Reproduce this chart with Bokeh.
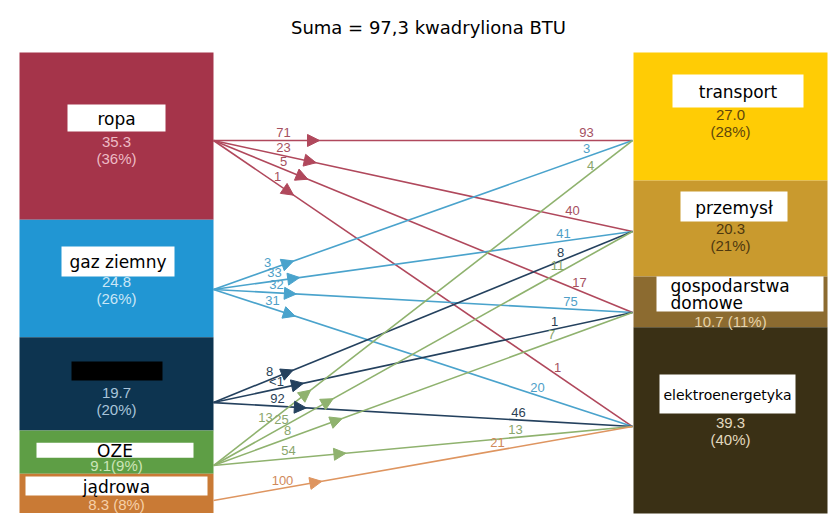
import numpy as np
from bokeh.plotting import figure
from bokeh.models import Range1d, Arrow, NormalHead
from bokeh.core.properties import value
from bokeh.embed import file_html
from bokeh.resources import INLINE

# ---------------- data ----------------
title_text = "Suma = 97,3 kwadryliona BTU"
sources = ["ropa", "gaz ziemny", "węgiel", "OZE", "jądrowa"]
source_values = [35.3, 24.8, 19.7, 9.1, 8.3]
source_labels = ["35.3\n(36%)", "24.8\n(26%)", "19.7\n(20%)", "9.1(9%)", "8.3 (8%)"]
targets = ["transport", "przemysł", "gospodarstwa\ndomowe", "elektroenergetyka"]
target_values = [27.0, 20.3, 10.7, 39.3]
target_labels = ["27.0\n(28%)", "20.3\n(21%)", "10.7 (11%)", "39.3\n(40%)"]
flow_src = [0, 0, 0, 0, 1, 1, 1, 1, 2, 2, 2, 3, 3, 3, 3, 4]
flow_tgt = [0, 1, 2, 3, 0, 1, 2, 3, 1, 2, 3, 0, 1, 2, 3, 3]
flow_pct_of_source = ["71", "23", "5", "1", "3", "33", "32", "31",
                      "8", "<1", "92", "13", "25", "8", "54", "100"]
flow_pct_of_target = ["93", "40", "17", "1", "3", "41", "75", "20",
                      "8", "1", "46", "4", "11", "7", "13", "21"]

# ---------------- styles / layout ----------------
src_colors = ["#A5344A", "#2196D3", "#0D3450", "#5E9E45", "#C97A35"]
tgt_colors = ["#FFCC05", "#C99A2E", "#8C6B30", "#3A3015"]
src_line_colors = ["#B0485C", "#4AA3CC", "#24415E", "#8FB26E", "#DE9560"]
src_text_colors = ["#A5505F", "#4F9FC8", "#2B3F55", "#8AA66C", "#D0895A"]
src_val_colors = ["#EDBBC5", "#CCE6F6", "#A9C4DA", "#CDE5B8", "#F6D0A8"]
tgt_val_colors = ["#5E460C", "#4E380E", "#E6D3AA", "#E2D8BF"]

W, H = 830, 516
TOP = 52.0
KY = 461.0 / 97.3
XL0, XL1 = 19, 213
XR0, XR1 = 633, 827

def ypx(v):
    return TOP + v * KY

def yval(px):
    return (px - TOP) / KY

src_anchor = [0.526, 0.593, 0.70, 0.81, 0.68]
tgt_anchor = [0.688, 0.531, 0.708, 0.533]
arrow_dist = [106, 105, 102, 97, 85, 87, 83, 86, 86, 92, 93, 123, 137, 137, 133, 110]
lab_dx_left = [70, 70, 70, 64, 54, 61, 63, 59, 56, 63, 64, 52, 68, 74, 75, 69]
lab_dx_right = [46, 60, 53, 75, 46, 69, 62, 95, 72, 78, 114, 42, 75, 81, 117, 135]

# node label boxes: (cx, dy from segment centre, w, h, box colour, name font size)
src_box = [(116, -18, 98, 27, "white", 17), (117.5, -17, 113, 30, "white", 17),
           (116.5, -13, 91, 19, "black", 15), (114.5, -2, 157, 15, "white", 17),
           (116, -7.4, 182, 19, "white", 17)]
src_val_dy = [5.4, 4, 8.6, 13.4, 11]
tgt_box = [(737.5, -25.5, 131, 33, "white", 17), (733.5, -22, 107, 30, "white", 17),
           (739.5, -8, 167, 35, "white", 17), (727, -26.4, 136, 39, "white", 14)]
tgt_val_dy = [-1, 0, 19.6, 3]

p = figure(width=W, height=H, output_backend="svg", toolbar_location=None,
           x_range=Range1d(0, W), y_range=Range1d(yval(H), yval(0)),
           min_border=0)
p.axis.visible = False
p.grid.visible = False
p.outline_line_color = None
p.background_fill_color = "white"

# ---------------- node boxes ----------------
s_cum = np.concatenate([[0], np.cumsum(source_values)])
t_cum = np.concatenate([[0], np.cumsum(target_values)])
p.quad(left=[XL0] * len(sources), right=[XL1] * len(sources),
       top=list(s_cum[:-1]), bottom=list(s_cum[1:]), fill_color=src_colors, line_color=None)
p.quad(left=[XR0] * len(targets), right=[XR1] * len(targets),
       top=list(t_cum[:-1]), bottom=list(t_cum[1:]), fill_color=tgt_colors, line_color=None)

src_y = [s_cum[i] + src_anchor[i] * source_values[i] for i in range(len(sources))]
tgt_y = [t_cum[i] + tgt_anchor[i] * target_values[i] for i in range(len(targets))]

# ---------------- flows ----------------
for k in range(len(flow_src)):
    s, t = flow_src[k], flow_tgt[k]
    x0, y0 = XL1, ypx(src_y[s])
    x1, y1 = XR0 - 1, ypx(tgt_y[t])
    col = src_line_colors[s]
    p.segment(x0=[x0], y0=[yval(y0)], x1=[x1], y1=[yval(y1)], line_color=col, line_width=1.6)
    L = np.hypot(x1 - x0, y1 - y0)
    ux, uy = (x1 - x0) / L, (y1 - y0) / L
    d = arrow_dist[k]
    tx, ty = x0 + ux * d, y0 + uy * d
    p.add_layout(Arrow(end=NormalHead(size=12, fill_color=col, line_color=col, line_width=1),
                       x_start=tx - ux * 2, y_start=yval(ty - uy * 2),
                       x_end=tx, y_end=yval(ty), line_alpha=0))
    # left label
    lx = x0 + lab_dx_left[k]
    ly = y0 + (y1 - y0) * (lab_dx_left[k] / (x1 - x0)) - 8
    p.text(x=[lx], y=[yval(ly)], text=[flow_pct_of_source[k]], text_align="center",
           text_baseline="middle", text_font=value("Liberation Sans"),
           text_font_size="13px", text_color=src_text_colors[s])
    rx = x1 - lab_dx_right[k]
    ry = y1 - (y1 - y0) * (lab_dx_right[k] / (x1 - x0)) - 8
    p.text(x=[rx], y=[yval(ry)], text=[flow_pct_of_target[k]], text_align="center",
           text_baseline="middle", text_font=value("Liberation Sans"),
           text_font_size="13px", text_color=src_text_colors[s])

# ---------------- node labels ----------------
def node_label(cx_col, seg_top, seg_val, box, name, vals, val_dy, val_col):
    cx, dy, w, h, bcol, fs = box
    cy = ypx(seg_top + seg_val / 2) + dy
    p.rect(x=[cx], y=[yval(cy)], width=[w], height=[h], width_units="screen",
           height_units="screen", fill_color=bcol, line_color=None)
    lines = name.split("\n")
    if len(lines) == 1:
        p.text(x=[cx], y=[yval(cy + 1)], text=[name], text_align="center",
               text_baseline="middle", text_font=value("DejaVu Sans"),
               text_font_size=f"{fs}px", text_color="black")
    else:
        for j, ln in enumerate(lines):
            p.text(x=[cx - w / 2 + 14], y=[yval(cy - 7.5 + j * 17)], text=[ln],
                   text_align="left", text_baseline="middle",
                   text_font=value("DejaVu Sans"), text_font_size=f"{fs}px",
                   text_color="black")
    vlines = vals.split("\n")
    vc = ypx(seg_top + seg_val / 2)
    for j, ln in enumerate(vlines):
        p.text(x=[cx_col], y=[yval(vc + val_dy + j * 16.5)], text=[ln], text_align="center",
               text_baseline="middle", text_font=value("Liberation Sans"),
               text_font_size="15px", text_color=val_col)

for i in range(len(sources)):
    node_label((XL0 + XL1) / 2, s_cum[i], source_values[i], src_box[i], sources[i],
               source_labels[i], src_val_dy[i], src_val_colors[i])
for i in range(len(targets)):
    node_label((XR0 + XR1) / 2, t_cum[i], target_values[i], tgt_box[i], targets[i],
               target_labels[i], tgt_val_dy[i], tgt_val_colors[i])

# ---------------- title ----------------
p.text(x=[428], y=[yval(27)], text=[title_text], text_align="center", text_baseline="middle",
       text_font=value("DejaVu Sans"), text_font_size="18px", text_color="black")

open("out.html", "w").write(file_html(p, INLINE))
